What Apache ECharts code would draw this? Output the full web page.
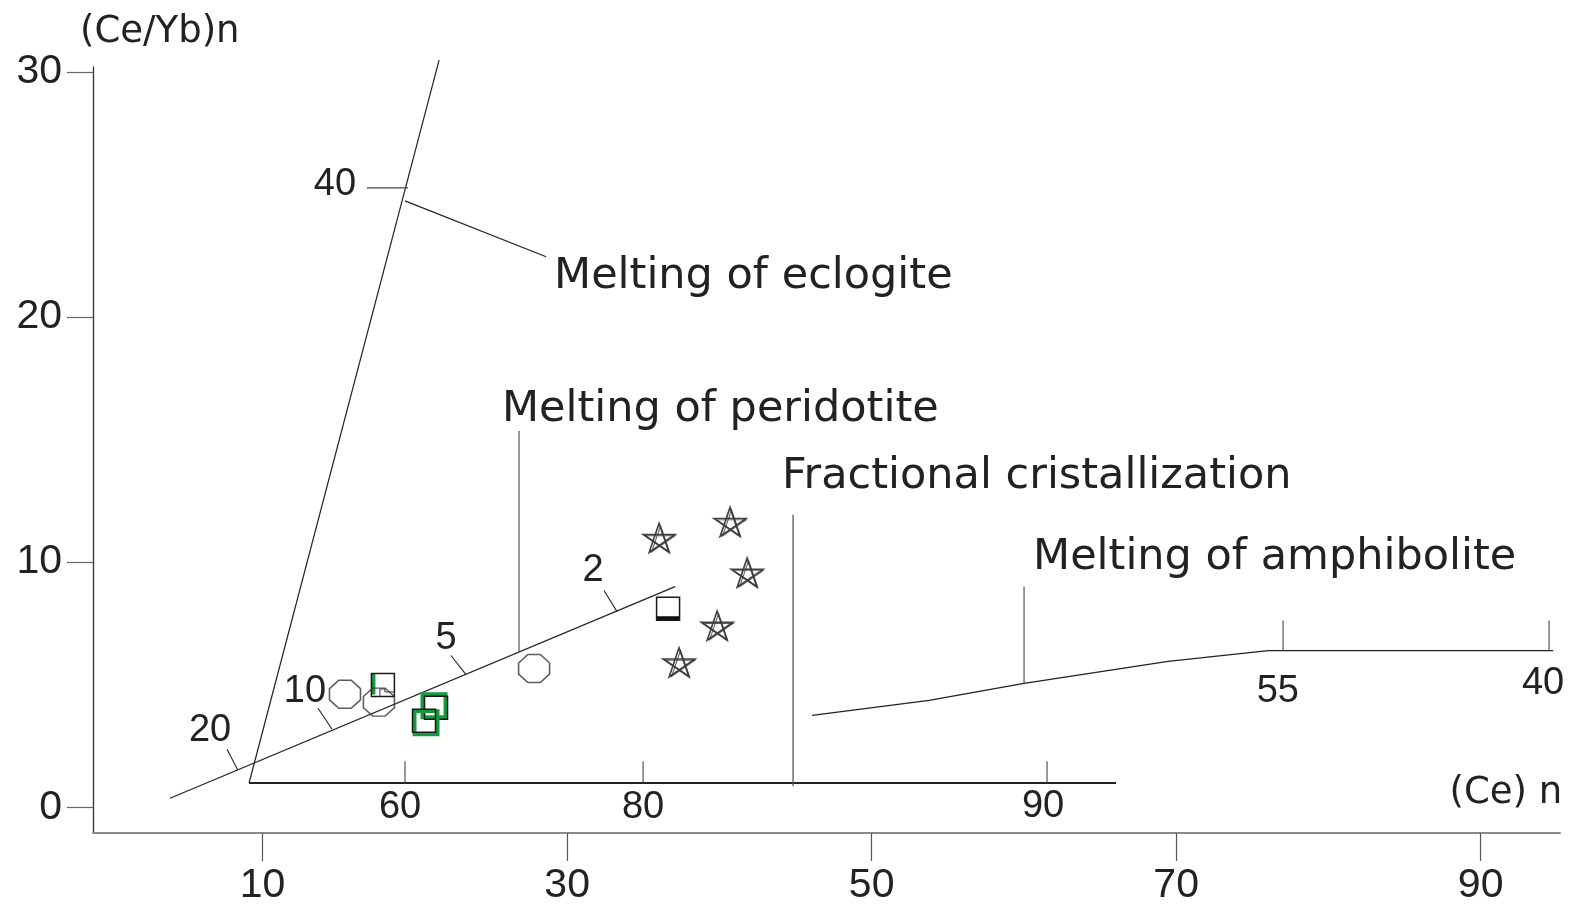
<!DOCTYPE html>
<html>
<head>
<meta charset="utf-8">
<script src="https://cdn.jsdelivr.net/npm/echarts@6/dist/echarts.min.js"></script>
<style>
  html, body { margin: 0; padding: 0; background: #ffffff; }
  #chart { width: 1576px; height: 906px; }
</style>
</head>
<body>
<div id="chart"></div>
<script>
// ---------- data (axis coordinates) ----------
const xTicks = [10, 30, 50, 70, 90];
const yTicks = [0, 10, 20, 30];

const eclogiteLine   = [[9.11, 0.99], [21.59, 30.48]];
const eclogiteTick40 = [[16.85, 25.27], [19.55, 25.27]];
const eclogiteLeader = [[19.35, 24.74], [28.62, 22.46]];

const peridotiteLine   = [[3.92, 0.37], [37.09, 9.00]];
const peridotiteTicks  = [
  [[7.66, 2.37], [8.38, 1.51]],
  [[13.64, 4.04], [14.56, 3.18]],
  [[22.37, 6.19], [23.36, 5.41]],
  [[32.42, 8.84], [33.28, 7.98]]
];
const peridotiteLeader = [[26.84, 15.35], [26.84, 6.33]];

const innerAxis  = [[9.11, 0.99], [66.05, 0.99]];
const innerTicks = [
  [[19.35, 0.99], [19.35, 1.88]],
  [[34.99, 0.99], [34.99, 1.88]],
  [[61.52, 0.99], [61.52, 1.88]]
];

const fractionalLine = [[44.84, 11.93], [44.84, 0.86]];

const amphiboliteLine   = [[46.09, 3.75], [53.77, 4.36], [60.01, 5.05], [69.47, 5.95], [76.04, 6.39], [94.76, 6.39]];
const amphiboliteLeader = [[60.01, 9.00], [60.01, 5.05]];
const amphiboliteTicks  = [
  [[77.02, 6.39], [77.02, 7.62]],
  [[94.49, 6.39], [94.49, 7.62]]
];

const stars    = [[36.04, 10.99], [40.70, 11.64], [41.82, 9.57], [39.85, 7.41], [37.35, 5.91]];
const octagons = [[15.41, 4.61], [17.64, 4.29], [27.83, 5.66]];
const squaresGreenLeft        = [[17.90, 4.99]];
const squaresGreenTopLeft     = [[21.39, 4.06]];
const squaresGreenBottomRight = [[20.60, 3.53]];
const squaresBlackBase        = [[36.63, 8.10]];

const tickLabels = [
  [14.75, 25.39, '40'], [6.55, 3.14, '20'], [12.78, 4.73, '10'], [22.05, 6.88, '5'], [31.70, 9.65, '2'],
  [19.03, -0.03, '60'], [34.99, -0.03, '80'], [61.26, 0.05, '90'],
  [76.68, 4.73, '55'], [94.10, 5.05, '40']
];
const annotations = [
  [29.14, 21.65, 'Melting of eclogite'],
  [25.72, 16.20, 'Melting of peridotite'],
  [44.11, 13.47, 'Fractional cristallization'],
  [60.60, 10.18, 'Melting of amphibolite']
];
const axisTitles = [
  [-1.99, 31.62, '(Ce/Yb)n', 'left'],
  [95.35, 0.58, '(Ce) n', 'right']
];

// ---------- helpers ----------
const INK = '#222222';
function lineSeries(data, width, color) {
  return {
    type: 'line', data: data, symbol: 'none', clip: false, silent: true,
    animation: false, z: 2,
    lineStyle: { color: color || INK, width: width || 1.2 }
  };
}
function textSeries(list, fontSize, family, defaultAlign) {
  return {
    type: 'custom', silent: true, animation: false, clip: false, z: 5,
    data: list.map(d => [d[0], d[1]]),
    encode: { x: 0, y: 1 },
    renderItem: function (params, api) {
      const d = list[params.dataIndex];
      const p = api.coord([d[0], d[1]]);
      const al = d[3] || defaultAlign;
      return {
        type: 'text', x: p[0], y: p[1],
        style: {
          text: d[2], fill: INK, fontSize: fontSize, fontFamily: family,
          textAlign: al, textVerticalAlign: 'middle', align: al, verticalAlign: 'middle'
        }
      };
    }
  };
}
function squareSeries(list, kind) {
  const S = 23, h = S / 2;
  return {
    type: 'custom', silent: true, animation: false, clip: false, z: 4,
    data: list, encode: { x: 0, y: 1 },
    renderItem: function (params, api) {
      const p = api.coord([api.value(0), api.value(1)]);
      const x = p[0], y = p[1];
      const children = [];
      if (kind === 'topLeft' || kind === 'bottomRight') {
        const o = kind === 'topLeft' ? -2 : 2;
        children.push({ type: 'rect', shape: { x: x - h + o, y: y - h + o, width: S, height: S },
          style: { fill: 'none', stroke: '#169a40', lineWidth: 4 } });
      }
      if (kind === 'left') {
        children.push({ type: 'rect', shape: { x: x - h, y: y - h, width: 4, height: S - 2 },
          style: { fill: '#169a40' } });
        children.push({ type: 'polyline', shape: { points: [[x - 3, y + h], [x - 3, y + 4], [x + 2, y + 4], [x + 2, y + 7], [x + h, y + 7]] },
          style: { fill: 'none', stroke: '#333', lineWidth: 1 } });
      }
      if (kind === 'blackBase') {
        children.push({ type: 'rect', shape: { x: x - h, y: y + h - 4, width: S, height: 4 },
          style: { fill: '#111' } });
      }
      children.push({ type: 'rect', shape: { x: x - h, y: y - h, width: S, height: S },
        style: { fill: 'none', stroke: '#1a1a1a', lineWidth: 1.5 } });
      return { type: 'group', children: children };
    }
  };
}

const starPath = 'path://M50 0 L79.39 90.45 L2.45 34.55 L97.55 34.55 L20.61 90.45 Z';
const octPath  = 'path://M30 0 L70 0 L100 30 L100 70 L70 100 L30 100 L0 70 L0 30 Z';

const series = [];
series.push(lineSeries(eclogiteLine, 1.2));
series.push(lineSeries(eclogiteTick40, 1.2, '#444'));
series.push(lineSeries(eclogiteLeader, 1.2));
series.push(lineSeries(peridotiteLine, 1.2));
peridotiteTicks.forEach(s => series.push(lineSeries(s, 1.1)));
series.push(lineSeries(peridotiteLeader, 1.1, '#444'));
series.push(lineSeries(innerAxis, 1.8));
innerTicks.forEach(s => series.push(lineSeries(s, 1.1, '#444')));
series.push(lineSeries(fractionalLine, 1.3, '#555'));
series.push(lineSeries(amphiboliteLine, 1.3));
series.push(lineSeries(amphiboliteLeader, 1.1, '#444'));
amphiboliteTicks.forEach(s => series.push(lineSeries(s, 1.1, '#444')));

series.push({
  type: 'scatter', data: stars, symbol: starPath, symbolSize: [32, 29],
  silent: true, animation: false, z: 4,
  itemStyle: { color: 'rgba(0,0,0,0)', borderColor: '#111', borderWidth: 1.6 }
});
series.push({
  type: 'scatter', data: stars, symbol: starPath, symbolSize: [29, 26], symbolOffset: [1.5, 1],
  silent: true, animation: false, z: 4,
  itemStyle: { color: 'rgba(0,0,0,0)', borderColor: '#333', borderWidth: 1 }
});
series.push({
  type: 'scatter', data: octagons, symbol: octPath, symbolSize: [31, 28],
  silent: true, animation: false, z: 4,
  itemStyle: { color: 'rgba(0,0,0,0)', borderColor: '#333', borderWidth: 1.5 }
});
series.push(squareSeries(squaresGreenLeft, 'left'));
series.push(squareSeries(squaresGreenTopLeft, 'topLeft'));
series.push(squareSeries(squaresGreenBottomRight, 'bottomRight'));
series.push(squareSeries(squaresBlackBase, 'blackBase'));

series.push(textSeries(tickLabels, 38, '"Liberation Sans", Arial, sans-serif', 'center'));
series.push(textSeries(annotations, 43, '"DejaVu Sans", sans-serif', 'left'));
series.push(textSeries(axisTitles, 37, '"DejaVu Sans", sans-serif', 'left'));

const chart = echarts.init(document.getElementById('chart'), null, { renderer: 'canvas' });
chart.setOption({
  backgroundColor: '#ffffff',
  animation: false,
  grid: { left: 93, right: 16, top: 67, bottom: 71, containLabel: false },
  xAxis: {
    type: 'value', min: -1.14, max: 95.21,
    axisLine: { show: true, onZero: false, lineStyle: { color: '#8a8a8a', width: 2 } },
    axisTick: { show: true, length: 28, customValues: xTicks, lineStyle: { color: '#555', width: 1.2 } },
    axisLabel: { show: true, customValues: xTicks, margin: 32, fontSize: 41,
      fontFamily: '"Liberation Sans", Arial, sans-serif', color: INK },
    splitLine: { show: false }
  },
  yAxis: {
    type: 'value', min: -1.05, max: 30.2,
    axisLine: { show: true, onZero: false, lineStyle: { color: '#333', width: 1.3 } },
    axisTick: { show: true, length: 26, customValues: yTicks, lineStyle: { color: '#666', width: 1.2 } },
    axisLabel: { show: true, customValues: yTicks, margin: 31, fontSize: 41,
      fontFamily: '"Liberation Sans", Arial, sans-serif', color: INK },
    splitLine: { show: false }
  },
  series: series
});
</script>
</body>
</html>
